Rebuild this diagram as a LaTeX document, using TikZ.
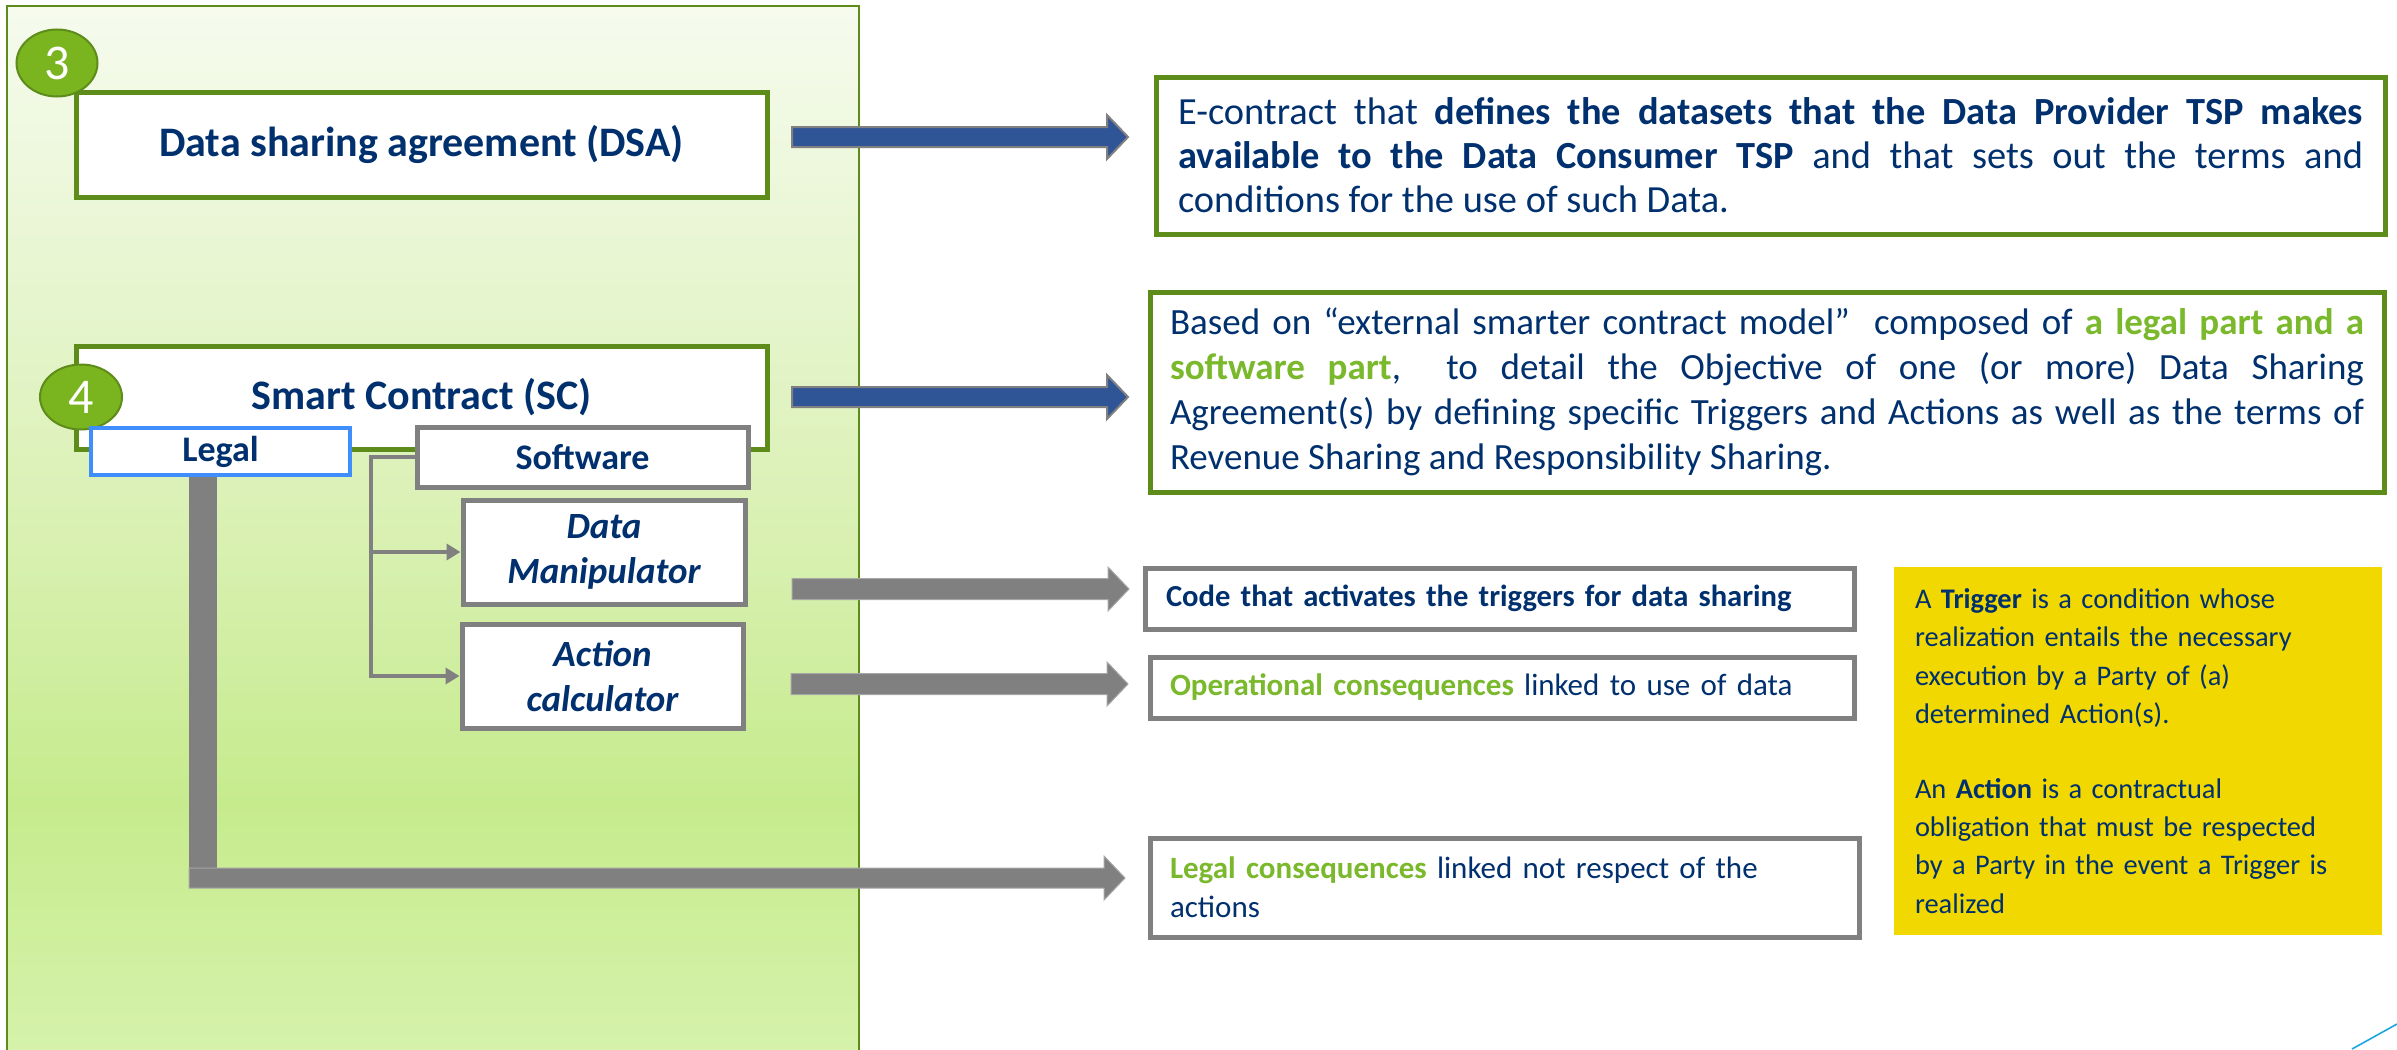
\documentclass[tikz,border=0pt]{standalone}
\usepackage{fontspec}
\setmainfont{Carlito}
\usetikzlibrary{calc,arrows.meta,shapes.geometric}

\definecolor{navy}{HTML}{00306E}
\definecolor{lgreen}{HTML}{7AB82C}
\definecolor{dgreen}{HTML}{5E8C1A}
\definecolor{cfill}{HTML}{7AB51F}
\definecolor{garrow}{HTML}{808080}
\definecolor{barrow}{HTML}{2F5597}
\definecolor{lblue}{HTML}{3F8EFC}
\definecolor{yel}{HTML}{F0D800}
\definecolor{cyanl}{HTML}{1CA6E0}
\definecolor{pbot}{HTML}{D6F2AB}
\definecolor{pmidA}{HTML}{C6EB8D}
\definecolor{pmidB}{HTML}{D8F0B0}
\definecolor{pmidC}{HTML}{E6F5CE}
\definecolor{ptop}{HTML}{F6FBEE}

\pgfdeclareverticalshading{panelshade}{100bp}{color(0bp)=(pbot); color(25.5bp)=(pbot); color(37.3bp)=(pmidA); color(49.2bp)=(pmidB); color(61.1bp)=(pmidC); color(75bp)=(ptop); color(100bp)=(ptop)}

\newcommand{\myfatarrow}[4]{%
  \path[#1] ($(#2)+(0,-#4)$) -- ($(#3)+(-21,-#4)$) -- ($(#3)+(-21,-22)$) -- (#3)
    -- ($(#3)+(-21,22)$) -- ($(#3)+(-21,#4)$) -- ($(#2)+(0,#4)$) -- cycle;}

\tikzset{
  every node/.style={text=navy},
  greenbox/.style={draw=dgreen, line width=2.5pt, fill=white, inner sep=0pt},
  graybox/.style={draw=garrow, line width=2.5pt, fill=white, inner sep=0pt},
  legalbox/.style={draw=lblue, line width=2pt, fill=white, inner sep=0pt},
  numcircle/.style={ellipse, fill=cfill, draw=dgreen, line width=1pt, inner sep=0pt,
     text=white, font=\fontsize{25}{28}\selectfont},
  titlefont/.style={font=\bfseries\fontsize{21}{25}\selectfont},
  subfont/.style={font=\bfseries\fontsize{18}{22}\selectfont},
  itfont/.style={font=\bfseries\itshape\fontsize{18.5}{22.5}\selectfont, align=center},
  busline/.style={draw=garrow, line width=2pt, -{Triangle[length=7pt,width=8pt]}},
  bluearrow/.style={fill=barrow, draw=garrow, line width=1pt},
  grayarrow/.style={fill=garrow, draw=garrow!70, line width=0.5pt},
}

\begin{document}
\begin{tikzpicture}[x=0.5pt,y=-0.5pt]
\useasboundingbox (0,0) rectangle (2397,1049);

% left panel
\shade[shading=panelshade] (7,6) rectangle (859,1062);
\draw[dgreen, line width=1pt] (7,6) rectangle (859,1062);

% DSA and SC boxes
\node[greenbox, titlefont, minimum width=345.5pt, minimum height=52.5pt] (dsa) at (421.5,144.5) {Data sharing agreement (DSA)};
\node[greenbox, titlefont, minimum width=345.5pt, minimum height=51.5pt] (sc) at (421.5,397.5) {Smart Contract (SC)};

\node[numcircle, minimum width=40.5pt, minimum height=33.5pt] (n3) at (57,63) {3};
\node[numcircle, minimum width=41pt, minimum height=32.5pt] (n4) at (81,397) {4};

% Legal / Software
\node[legalbox, subfont, minimum width=129.5pt, minimum height=23.5pt] (legal) at (220.5,451.5) {Legal};
\node[graybox, subfont, minimum width=165.5pt, minimum height=30pt] (sw) at (582.5,457) {Software};
\node[graybox, itfont, minimum width=141pt, minimum height=52pt] (dm) at (604,552) {Data\\Manipulator};
\node[graybox, itfont, minimum width=140.5pt, minimum height=52pt] (ac) at (602.5,676) {Action\\calculator};

% bus connector
\coordinate (bus) at (371,457);
\draw[busline] (sw.west) -- (bus) |- (ac.west);
\draw[busline] (bus |- dm.west) -- (dm.west);

% legal bar
\coordinate (lcorner) at (203,870);
\draw[garrow, line width=14pt] (legal.south -| lcorner) -- (lcorner);

% right boxes
\node[greenbox, minimum width=614.5pt, minimum height=78.5pt, text width=592.5pt, align=justify,
  font=\fontsize{19.2}{22}\selectfont] (b1) at (1770.5,155.5)
  {\tolerance=10000 E-contract that \textbf{defines the datasets that the Data Provider TSP makes}\linebreak
   \textbf{available to the Data Consumer TSP} and that sets out the terms and\linebreak
   conditions for the use of such Data.};
\node[greenbox, minimum width=617pt, minimum height=100pt, text width=597pt, align=justify,
  font=\fontsize{18.5}{22.5}\selectfont] (b2) at (1767,392)
  {\tolerance=10000 Based on “external smarter contract model”\ \ composed of \textcolor{lgreen}{\bfseries a legal part and a}\linebreak
   \textcolor{lgreen}{\bfseries software part},\ \ to detail the Objective of one (or more) Data Sharing\linebreak
   Agreement(s) by defining specific Triggers and Actions as well as the terms of\linebreak
   Revenue Sharing and Responsibility Sharing.};
\node[graybox, minimum width=354.5pt, minimum height=30.5pt, text width=333.5pt, align=left,
  font=\bfseries\fontsize{15.3}{19.5}\selectfont] (b3) at (1499.5,598.5)
  {Code that activates the triggers for data sharing};
\node[graybox, minimum width=352pt, minimum height=30.5pt, text width=332pt, align=left,
  font=\fontsize{15.5}{19.5}\selectfont] (b4) at (1502,687.5)
  {\textcolor{lgreen}{\bfseries Operational consequences} linked to use of data};
\node[graybox, minimum width=354.5pt, minimum height=49.5pt, text width=334.5pt, align=left,
  font=\fontsize{15.5}{19.5}\selectfont] (b5) at (1504.5,887.5)
  {\textcolor{lgreen}{\bfseries Legal consequences} linked not respect of the\\actions};
\node[fill=yel, inner sep=0pt, minimum width=244pt, minimum height=184pt, text width=223pt, align=left,
  font=\fontsize{14.2}{19.2}\selectfont] (yb) at (2138,751)
  {\hyphenpenalty=10000 A \textbf{Trigger} is a condition whose\\
   realization entails the necessary\\
   execution by a Party of (a)\\
   determined Action(s).\\[18pt]
   An \textbf{Action} is a contractual\\
   obligation that must be respected\\
   by a Party in the event a Trigger is\\
   realized};

% big arrows
\coordinate (a1s) at (792,137);  \coordinate (a1t) at (1128,137);
\coordinate (a2s) at (792,397);  \coordinate (a2t) at (1128,397);
\coordinate (a3s) at (792,589);  \coordinate (a3t) at (1129,589);
\coordinate (a4s) at (791,684);  \coordinate (a4t) at (1128,684);
\coordinate (a5s) at (189,878);  \coordinate (a5t) at (1125,878);
\myfatarrow{bluearrow}{a1s}{a1t}{10}
\myfatarrow{bluearrow}{a2s}{a2t}{10}
\myfatarrow{grayarrow}{a3s}{a3t}{10.5}
\myfatarrow{grayarrow}{a4s}{a4t}{10.5}
\myfatarrow{grayarrow}{a5s}{a5t}{10}

% corner line
\draw[cyanl, line width=0.8pt] (2352,1049) -- (2397,1024);
\end{tikzpicture}
\end{document}
